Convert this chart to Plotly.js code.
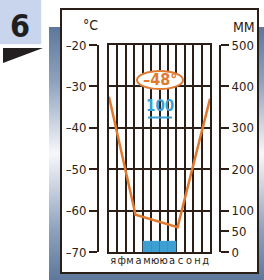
<!DOCTYPE html>
<html><head><meta charset="utf-8">
<script src="https://cdn.plot.ly/plotly-3.0.1.min.js"></script>
<style>
html,body{margin:0;padding:0;background:#fff;}
#wrap{position:relative;width:264px;height:280px;overflow:hidden;}
#bg{position:absolute;left:49px;top:27px;width:215px;height:253px;
 background:linear-gradient(to bottom,#5d789b 0%,#8fa3bf 22%,#d9e0ea 42%,#f6f7fa 50%,#d5dce7 60%,#8ea2be 80%,#5d789b 100%);}
#chart{position:absolute;left:0;top:0;width:264px;height:280px;}
#chart svg text{font-stretch:condensed !important;}
</style></head><body>
<div id="wrap"><div id="bg"></div><div id="chart"></div></div>
<script>
// ---- data ----
const months = ['я','ф','м','а','м','ю','ю','а','с','о','н','д'];
const precipMm = [0,0,0,0,27,27,27,27,0,0,0,0];
const tempPos = [0, 3.15, 8.15, 12];          // position along the year (in months)
const tempC = [-32.5, -61, -64, -33];
const tempTicks = [-70,-60,-50,-40,-30,-20];
const tempTickText = ['–70','–60','–50','–40','–30','–20'];
const precipTicks = [0,50,100,200,300,400,500];
const precipTickText = ['0','50','100','200','300','400','500'];
const meanTempLabel = '–48°';
const annualPrecipLabel = '100';
const panelNumber = '6';
const tempUnit = '°C';
const precipUnit = 'ММ';

// ---- styling ----
const W = 264, H = 280;
const fx = p => p / W, fy = p => 1 - p / H;
const DARK = '#2b1e16', ORANGE = '#e07a30', BLUE = '#3d9fd2';
const FONT = '"DejaVu Sans Condensed","DejaVu Sans",sans-serif';
const monthCenters = months.map((_, i) => i + 0.5);

const traces = [
  {type:'scatter', mode:'lines', x:tempPos, y:tempC, xaxis:'x', yaxis:'y',
   line:{color:ORANGE, width:2.5}, hoverinfo:'skip'},
  {type:'bar', x:monthCenters, y:precipMm, xaxis:'x2', yaxis:'y3', width:1,
   marker:{color:BLUE, line:{width:0}}, hoverinfo:'skip'},
  {type:'scatter', mode:'markers', x:[], y:[], xaxis:'x', yaxis:'y2', hoverinfo:'skip'}
];

const layout = {
  width:W, height:H, margin:{l:0,r:0,t:0,b:0},
  paper_bgcolor:'rgba(0,0,0,0)', plot_bgcolor:'rgba(0,0,0,0)',
  showlegend:false, font:{family:FONT, color:DARK, size:13},
  xaxis:{domain:[fx(109), fx(210)], range:[0,12], tickmode:'linear', tick0:0, dtick:1,
    showgrid:true, gridcolor:DARK, gridwidth:2, showticklabels:false, ticks:'',
    showline:true, mirror:true, linecolor:DARK, linewidth:2, zeroline:false, fixedrange:true},
  yaxis:{domain:[fy(252), fy(45)], range:[-70,-20], tickmode:'linear', tick0:-70, dtick:10,
    showgrid:true, gridcolor:DARK, gridwidth:2, showticklabels:false, ticks:'',
    showline:true, mirror:true, linecolor:DARK, linewidth:2, zeroline:false, fixedrange:true},
  xaxis2:{overlaying:'x', anchor:'y', range:[0,12], tickmode:'array', tickvals:monthCenters,
    ticktext:months, tickangle:0, showgrid:false, showline:false, ticks:'', zeroline:false,
    tickfont:{size:11, color:DARK, family:FONT}, fixedrange:true},
  yaxis2:{overlaying:'y', anchor:'free', position:fx(98), side:'left', range:[-70,-20],
    tickmode:'array', tickvals:tempTicks, ticktext:tempTickText, ticks:'outside', ticklen:8,
    tickwidth:2, tickcolor:DARK, showline:true, linecolor:DARK, linewidth:2, showgrid:false,
    zeroline:false, tickfont:{size:13, color:DARK, family:FONT}, fixedrange:true},
  yaxis3:{overlaying:'y', anchor:'free', position:fx(220), side:'right', range:[0,500],
    tickmode:'array', tickvals:precipTicks, ticktext:precipTickText, ticks:'outside', ticklen:8,
    tickwidth:2, tickcolor:DARK, showline:true, linecolor:DARK, linewidth:2, showgrid:false,
    zeroline:false, tickfont:{size:13, color:DARK, family:FONT}, fixedrange:true},
  shapes:[
    {type:'rect', xref:'paper', yref:'paper', x0:fx(61), x1:fx(258), y0:fy(273), y1:fy(9),
     fillcolor:'#ffffff', line:{color:DARK, width:2}, layer:'below'},
    {type:'rect', xref:'paper', yref:'paper', x0:fx(-2), x1:fx(42), y0:fy(45), y1:fy(-2),
     fillcolor:'#c9d5ec', line:{color:'#ffffff', width:1.5}, layer:'below'},
    {type:'path', xref:'paper', yref:'paper',
     path:`M ${fx(3)} ${fy(48)} L ${fx(43)} ${fy(48)} L ${fx(3)} ${fy(63)} Z`,
     fillcolor:'#231f20', line:{width:0}, layer:'below'},
    {type:'circle', xref:'paper', yref:'paper', x0:fx(137), x1:fx(183), y0:fy(89), y1:fy(71),
     fillcolor:'#ffffff', line:{color:ORANGE, width:2}, layer:'above'},
    {type:'line', xref:'paper', yref:'paper', x0:fx(148), x1:fx(172), y0:fy(117.5), y1:fy(117.5),
     line:{color:BLUE, width:2}, layer:'above'}
  ],
  annotations:[
    {text:tempUnit, xref:'paper', yref:'paper', x:fx(90), y:fy(25), showarrow:false,
     xanchor:'center', yanchor:'middle', font:{size:14, color:DARK, family:FONT}},
    {text:precipUnit, xref:'paper', yref:'paper', x:fx(244), y:fy(27), showarrow:false,
     xanchor:'center', yanchor:'middle', font:{size:14, color:DARK, family:FONT}},
    {text:'<b>'+meanTempLabel+'</b>', xref:'paper', yref:'paper', x:fx(160), y:fy(79), showarrow:false,
     xanchor:'center', yanchor:'middle', font:{size:16, color:ORANGE, family:FONT}},
    {text:'<b>'+annualPrecipLabel+'</b>', xref:'paper', yref:'paper', x:fx(160), y:fy(106), showarrow:false,
     xanchor:'center', yanchor:'middle', font:{size:15, color:BLUE, family:FONT}},
    {text:'<b>'+panelNumber+'</b>', xref:'paper', yref:'paper', x:fx(20), y:fy(26), showarrow:false,
     xanchor:'center', yanchor:'middle', font:{size:32, color:'#1f1f1f', family:FONT}}
  ]
};

Plotly.newPlot('chart', traces, layout, {displayModeBar:false, staticPlot:true});
</script>
</body></html>
